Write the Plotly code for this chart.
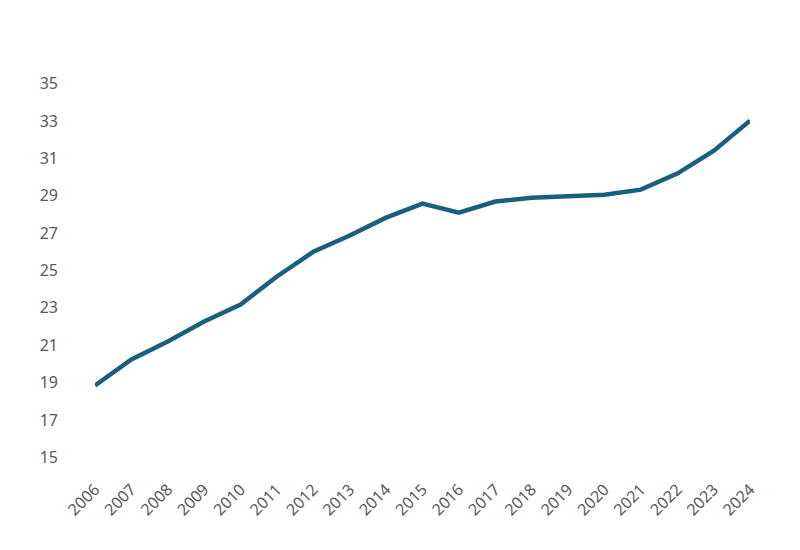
import plotly.graph_objects as go

years = list(range(2006, 2025))
values = [18.85, 20.24, 21.2, 22.27, 23.18, 24.68, 26.0, 26.87, 27.83, 28.58,
          28.1, 28.69, 28.9, 29.0, 29.06, 29.33, 30.19, 31.4, 33.02]
y_ticks = list(range(15, 36, 2))

fig = go.Figure()
fig.add_trace(go.Scatter(x=years, y=values, mode="lines",
                         line=dict(color="#1a5f7e", width=4.5),
                         hoverinfo="x+y"))

fig.update_layout(
    width=800, height=550,
    margin=dict(l=87, r=58, t=57, b=82),
    paper_bgcolor="white", plot_bgcolor="white",
    font=dict(family="Noto Sans, sans-serif", size=16, color="#595959"),
    showlegend=False,
    xaxis=dict(range=[2006, 2024], tickmode="array", tickvals=years,
               ticktext=[str(y) for y in years], tickangle=-45,
               showgrid=False, zeroline=False, showline=False, ticks="",
               automargin=False, ticklabelstandoff=0),
    yaxis=dict(range=[14, 36], tickmode="array", tickvals=y_ticks,
               showgrid=False, zeroline=False, showline=False, ticks="",
               ticklabelstandoff=36, automargin=False),
)
fig.write_html("out.html")
